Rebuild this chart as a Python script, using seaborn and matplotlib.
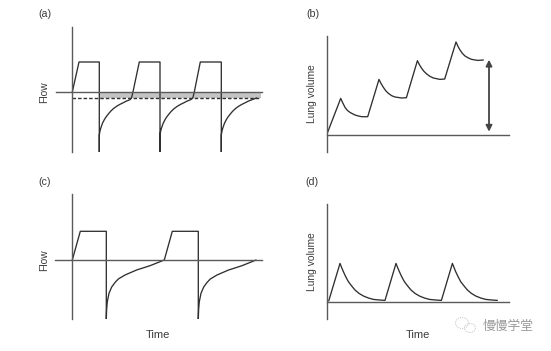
import matplotlib
matplotlib.use("Agg")
import matplotlib.pyplot as plt
from matplotlib.patches import Ellipse
import seaborn as sns

sns.set_theme(style="white")
plt.rcParams['font.family'] = ['Liberation Sans', 'Noto Sans CJK SC', 'DejaVu Sans']

W, H = 551, 351
LINE = '#2f2f2f'
AXIS = '#5a5a5a'

# panel (a) flow
a_time = [0, 6.7, 27, 27, 27, 27.7, 28.3, 29.3, 30.3, 32, 33.7, 36, 38.3, 41, 44.3, 47.7, 51, 54.3, 57.7,
          59.3, 61, 67, 87.7,
          87.7, 87.7, 88.4, 89, 90, 91, 92.7, 94.4, 96.7, 99, 101.7, 105, 108.4, 111.7, 115, 118.4,
          120.5, 122, 128, 149,
          149, 149, 149.7, 150.3, 151.3, 152.3, 154, 155.7, 158, 160.3, 163, 166.3, 169.7, 173, 176.3, 179.7, 184.3]
a_flow = [0, 30, 30, -60, -43, -39, -36.7, -33.7, -31, -27.7, -25, -22, -19.3, -16.7, -14.3, -12.3, -10.7, -9, -7.7,
          -5.7, 1.7, 30, 30,
          -60, -43, -39, -36.7, -33.7, -31, -27.7, -25, -22, -19.3, -16.7, -14.3, -12.3, -10.7, -9, -7.7,
          -6, 0, 30, 30,
          -60, -43, -39, -36.7, -33.7, -31, -27.7, -25, -22, -19.3, -16.7, -14.3, -12.3, -10.7, -9, -7.7, -6]
trapped_flow = -6

# panel (b) lung volume
b_time = [0, 14, 16, 18.3, 20.7, 23.3, 25.7, 28.3, 31.7, 35, 41,
          52.3, 54.3, 56.7, 59, 61.7, 65, 68.3, 75, 79.7,
          90.7, 92.7, 95, 97.3, 100, 103.3, 106.7, 113.3, 118,
          129.3, 131.3, 133.3, 135.7, 138.3, 141.7, 145, 151, 156.7]
b_vol = [0, 36.3, 32, 27.3, 24.3, 22.3, 21, 19.7, 18.7, 18, 18,
         55.3, 51.3, 47.3, 44, 41.3, 39, 37.7, 36.7, 37,
         74, 70, 66.3, 63.3, 60.7, 58.3, 56.7, 55.3, 55.7,
         92.7, 88.3, 84.7, 81.3, 78.7, 76.7, 75.3, 74.3, 74.7]

# panel (c) flow
c_time = [0, 8, 34, 34, 34.3, 35, 36.7, 39.4, 42.7, 46, 52.7, 64.3, 77.7, 92, 100, 126,
          126, 126.3, 127, 128.7, 131.4, 134.7, 138, 144.7, 156.3, 169.7, 183.7]
c_flow = [0, 28.7, 28.7, -59.3, -50, -41.7, -33.3, -27, -22.5, -19, -15, -10, -5.7, 0, 28.7, 28.7,
          -59.3, -50, -41.7, -33.3, -27, -22.5, -19, -15, -10, -5.7, 0]

# panel (d) lung volume
d_time = [2, 13.3, 15, 16.7, 19, 21.7, 25, 28.3, 32.3, 36.7, 41.7, 46.7, 52.7, 58.3,
          69.3, 71, 72.7, 75, 77.7, 81, 84.3, 88.3, 92.7, 97.7, 102.7, 108.7, 114.7,
          125.7, 127.4, 129, 131.4, 134, 137.4, 140.7, 144.7, 149, 154, 159, 165, 170.7]
d_vol = [0.7, 38.3, 34, 30, 25, 20, 15.7, 11.7, 8.3, 5.7, 3.7, 2.3, 1.7, 1.3,
         38.3, 34, 30, 25, 20, 15.7, 11.7, 8.3, 5.7, 3.7, 2.3, 1.7, 1.3,
         38.3, 34, 30, 25, 20, 15.7, 11.7, 8.3, 5.7, 3.7, 2.3, 1.7, 1.3]


def make_panel(fig, box, xlim, ylim, time, values):
    # box is left, top, right, bottom in pixels
    left, top, right, bottom = box
    ax = fig.add_axes([left / W, 1 - bottom / H, (right - left) / W, (bottom - top) / H])
    ax.set_xlim(*xlim)
    ax.set_ylim(*ylim)
    ax.patch.set_alpha(0)
    for side in ['top', 'right']:
        ax.spines[side].set_visible(False)
    for side in ['left', 'bottom']:
        ax.spines[side].set_position(('data', 0))
        ax.spines[side].set_color(AXIS)
        ax.spines[side].set_linewidth(1.0)
    sns.lineplot(x=time, y=values, sort=False, estimator=None, color=LINE, linewidth=0.95, ax=ax)
    ax.set_xticks([])
    ax.set_yticks([])
    ax.set_xlabel('')
    ax.set_ylabel('')
    return ax


fig = plt.figure(figsize=(W / 100, H / 100), dpi=100, facecolor='white')

ax_a = make_panel(fig, (56, 27, 262, 152), (-16.3, 189.7), (-60, 65), a_time, a_flow)
ax_a.fill_between([27, 189], [0, 0], [trapped_flow, trapped_flow], color='#c4c4c4', linewidth=0, zorder=0)
ax_a.plot([0, 187], [trapped_flow, trapped_flow], color=LINE, linewidth=1.0, linestyle=(0, (2.5, 1.5)))

ax_b = make_panel(fig, (326.7, 36, 509, 151.7), (0, 182.3), (-17, 98.7), b_time, b_vol)
ax_b.annotate('', xy=(162.3, 75), xytext=(162.3, 3), arrowprops=dict(
    arrowstyle='<|-|>', color='#444444', linewidth=1.3, mutation_scale=9, shrinkA=0, shrinkB=0))

ax_c = make_panel(fig, (55.3, 194.3, 261.7, 319.3), (-17, 189.4), (-59.3, 65.7), c_time, c_flow)

ax_d = make_panel(fig, (326.7, 204.3, 509, 319.3), (0, 182.3), (-17.6, 97.4), d_time, d_vol)

# panel letters and axis titles
text_color = '#3c3c3c'
panel_labels = ['(a)', '(b)', '(c)', '(d)']
panel_label_xy = [(44.5, 14), (312.5, 14), (44.5, 182), (312, 182)]
for lab, (px, py) in zip(panel_labels, panel_label_xy):
    fig.text(px / W, 1 - py / H, lab, ha='center', va='center', fontsize=7.7, color=text_color)

y_labels = ['Flow', 'Lung volume', 'Flow', 'Lung volume']
y_label_xy = [(44.5, 92), (312, 94), (44, 260), (312, 262)]
for lab, (px, py) in zip(y_labels, y_label_xy):
    fig.text(px / W, 1 - py / H, lab, ha='center', va='center', rotation=90, fontsize=7.4, color=text_color)

fig.text(158 / W, 1 - 335 / H, 'Time', ha='center', va='center', fontsize=8, color=text_color)
fig.text(418 / W, 1 - 335 / H, 'Time', ha='center', va='center', fontsize=8, color=text_color)

# watermark
fig.text(508.5 / W, 1 - 327 / H, '慢慢学堂', ha='center', va='center', fontsize=9.2, color='#999999')
for cx, cy, w, h in [(462, 323, 13, 11), (470, 328, 11, 9)]:
    fig.add_artist(Ellipse((cx / W, 1 - cy / H), w / W, h / H, transform=fig.transFigure, fill=False,
                           edgecolor='#cccccc', linewidth=0.8, linestyle=(0, (1, 1))))

fig.savefig('out.png', dpi=100)
